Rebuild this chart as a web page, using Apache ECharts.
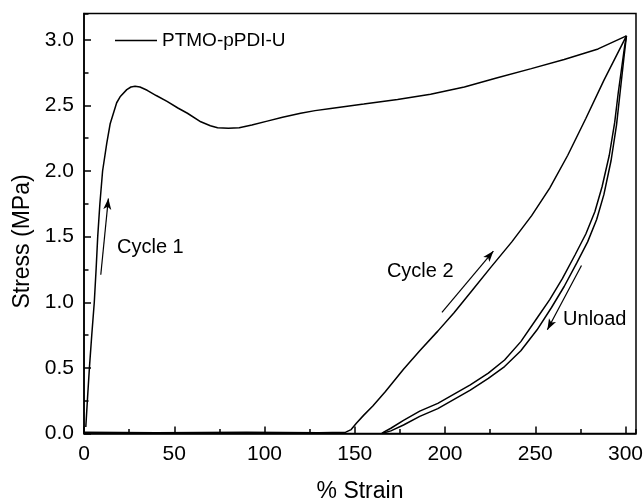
<!DOCTYPE html>
<html><head><meta charset="utf-8">
<script src="https://cdn.jsdelivr.net/npm/echarts@6/dist/echarts.min.js"></script>
<style>html,body{margin:0;padding:0;background:#fff}#c{width:644px;height:499px}</style>
</head><body><div id="c"></div>
<script>
const seriesName = 'PTMO-pPDI-U';
const xTitle = '% Strain';
const yTitle = 'Stress (MPa)';
const xTickLabels = [0, 50, 100, 150, 200, 250, 300];
const yTickLabels = ['0.0', '0.5', '1.0', '1.5', '2.0', '2.5', '3.0'];

// Cycle 1 loading [strain %, stress MPa]
const cycle1Load = [[1,0.05],[2,0.28],[3,0.5],[4.3,0.75],[5.7,1.0],[6.7,1.25],[7.6,1.5],[8.8,1.75],[10.3,2.0],[12.6,2.21],[14.5,2.36],[16.3,2.44],[18.1,2.52],[20,2.565],[23.7,2.62],[26,2.64],[28.3,2.645],[31,2.64],[35,2.615],[40,2.575],[46,2.53],[52,2.48],[57.3,2.44],[64.7,2.375],[70,2.345],[74,2.33],[80,2.325],[86,2.33],[93,2.35],[101.5,2.38],[110,2.41],[120,2.44],[128,2.46],[136.7,2.477],[155,2.51],[173.7,2.545],[192,2.585],[210.7,2.64],[229,2.71],[247.8,2.78],[266,2.85],[284.8,2.93],[300.5,3.03]];
// Cycle 1 unloading
const cycle1Unload = [[300.5,3.03],[299.5,2.95],[298,2.80],[296,2.60],[294,2.37],[291,2.12],[287,1.88],[283,1.69],[278,1.52],[272,1.36],[265,1.18],[258,1.02],[251,0.88],[242,0.70],[233,0.56],[224,0.46],[214,0.37],[205,0.30],[196,0.23],[186,0.17],[177,0.10],[170,0.04],[166,0.01],[165,0.0]];
// Cycle 2 loading
const cycle2Load = [[0,0.01],[40,0.005],[90,0.01],[130,0.005],[145,0.01],[148,0.03],[151,0.08],[155,0.14],[160,0.21],[167,0.32],[177,0.49],[186,0.63],[196,0.78],[205,0.92],[215,1.09],[225,1.26],[237,1.46],[248,1.66],[258,1.87],[268,2.12],[278,2.40],[288,2.69],[300.5,3.03]];
// Cycle 2 unloading
const cycle2Unload = [[300.5,3.03],[299,2.85],[297,2.60],[295,2.35],[292,2.08],[288,1.82],[284,1.63],[279,1.46],[273,1.30],[266,1.12],[259,0.96],[251,0.79],[242,0.63],[233,0.51],[224,0.42],[214,0.33],[205,0.26],[196,0.19],[186,0.13],[177,0.065],[170,0.02],[165,0.0]];

const annotationTexts = ['Cycle 1', 'Cycle 2', 'Unload'];
const annotationPoints = [[18.3,1.42],[167.8,1.232],[265.4,0.87]];
const arrowStarts = [[9.3,1.21],[198.3,0.923],[275.6,1.28]];
const arrowEnds = [[13.5,1.79],[226.8,1.39],[256.7,0.79]];

const FONT = "'Liberation Sans', Arial, sans-serif";
const chart = echarts.init(document.getElementById('c'), null, {renderer:'canvas'});

const curveStyle = {color:'#000', width:1.5};
function curve(data){
  return {type:'line', name:seriesName, data:data, showSymbol:false, symbol:'none',
    lineStyle:curveStyle, itemStyle:{color:'#000'}, silent:true, z:3, xAxisIndex:0, yAxisIndex:0};
}

const option = {
  animation:false,
  backgroundColor:'#fff',
  textStyle:{fontFamily:FONT},
  grid:{left:84, right:8, top:13.5, bottom:65.5, show:true, borderColor:'#000', borderWidth:1.5,
    containLabel:false, outerBoundsMode:'none'},
  legend:{data:[{name:seriesName, icon:'rect', itemStyle:{color:'#000'}}], left:110, top:26,
    itemWidth:42, itemHeight:1.5,
    textStyle:{fontSize:19, fontFamily:FONT, color:'#000'}},
  xAxis:[{type:'value', min:0, max:305.8, interval:50, position:'bottom',
      name:xTitle, nameLocation:'middle', nameGap:47, nameTextStyle:{fontSize:23, color:'#000', fontFamily:FONT},
      axisLine:{show:true, lineStyle:{color:'#000', width:1.5}},
      axisTick:{show:true, inside:true, length:7, lineStyle:{color:'#000', width:1.5}},
      axisLabel:{fontSize:21, color:'#000', margin:10, fontFamily:FONT, showMaxLabel:false,
        formatter:v => xTickLabels.indexOf(v) >= 0 ? String(v) : ''},
      splitLine:{show:false}},
    {type:'value', min:0, max:305.8, interval:25, position:'bottom',
      axisLine:{show:false}, axisLabel:{show:false}, splitLine:{show:false},
      axisTick:{show:true, inside:true, length:4.5, lineStyle:{color:'#000', width:1.5}}}],
  yAxis:[{type:'value', min:0, max:3.2, interval:0.5, position:'left',
      name:yTitle, nameLocation:'middle', nameGap:45, nameTextStyle:{fontSize:23, color:'#000', fontFamily:FONT, padding:[0,36,0,0]},
      axisLine:{show:true, lineStyle:{color:'#000', width:1.5}},
      axisTick:{show:true, inside:true, length:7, lineStyle:{color:'#000', width:1.5}},
      axisLabel:{fontSize:21, color:'#000', margin:10, fontFamily:FONT, showMaxLabel:false,
        formatter:v => { const s = v.toFixed(1); return yTickLabels.indexOf(s) >= 0 ? s : ''; }},
      splitLine:{show:false}},
    {type:'value', min:0, max:3.2, interval:0.25, position:'left',
      axisLine:{show:false}, axisLabel:{show:false}, splitLine:{show:false},
      axisTick:{show:true, inside:true, length:4.5, lineStyle:{color:'#000', width:1.5}}}],
  series:[
    curve(cycle1Load), curve(cycle1Unload), curve(cycle2Load), curve(cycle2Unload),
    {type:'line', name:'arrows', data:[], xAxisIndex:0, yAxisIndex:0, silent:true,
      markLine:{silent:true, symbol:['none','arrow'], symbolSize:[6,11], animation:false,
        lineStyle:{color:'#000', width:1.2, type:'solid'}, label:{show:false},
        emphasis:{disabled:true},
        data: arrowStarts.map((s,i) => [{coord:s}, {coord:arrowEnds[i]}])}},
    {type:'scatter', name:'notes', xAxisIndex:0, yAxisIndex:0, silent:true, symbolSize:0,
      itemStyle:{opacity:1, color:'#000'},
      data: annotationTexts.map((t,i) => ({name:t, value:annotationPoints[i]})),
      label:{show:true, position:'inside', align:'left', verticalAlign:'middle', formatter:'{b}',
        fontSize:20, color:'#000', fontFamily:FONT}}
  ]
};
chart.setOption(option);
</script></body></html>
